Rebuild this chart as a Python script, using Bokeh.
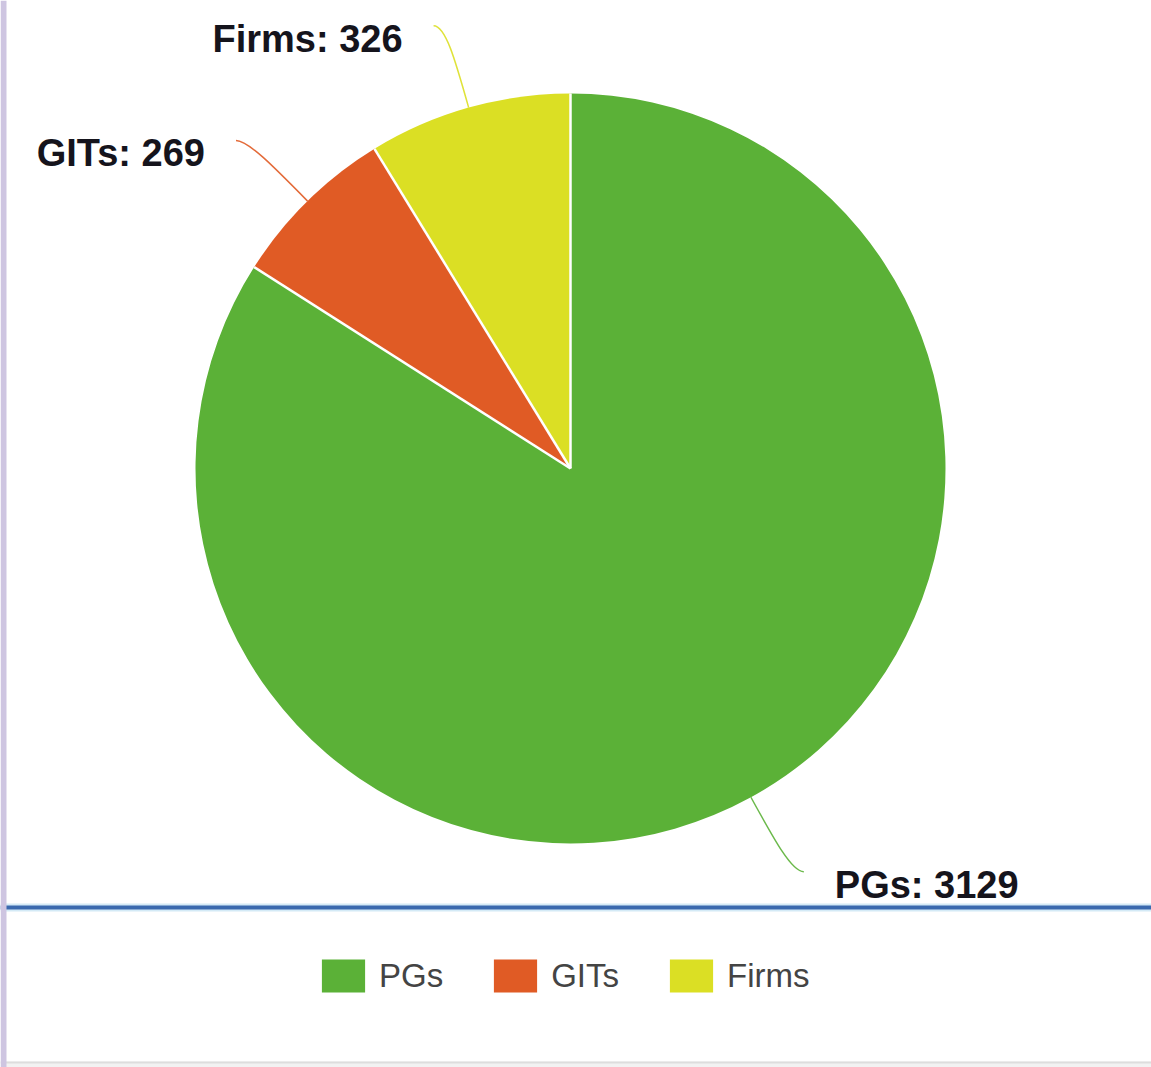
import math
from bokeh.plotting import figure
from bokeh.models import Range1d, ColumnDataSource, Legend, LegendItem, Span, BoxAnnotation
from bokeh.embed import file_html
from bokeh.resources import INLINE
from bokeh.core.properties import value

# ---- data ----
categories = ["PGs", "GITs", "Firms"]
counts = [3129, 269, 326]
colors = ["#5BB137", "#E05B25", "#DBDF24"]

# ---- layout (data units == screen pixels, y measured from bottom) ----
W, H = 1151, 1067
CX, CY, R = 570, 599, 375

p = figure(width=W, height=H, x_range=Range1d(0, W), y_range=Range1d(0, H),
           output_backend="svg", toolbar_location=None, min_border=0,
           x_axis_location=None, y_axis_location=None)
p.grid.visible = False
p.outline_line_color = None
p.background_fill_color = "white"
p.border_fill_color = "white"

total = float(sum(counts))
starts, ends, mids = [], [], []
cum = 0.0
for v in counts:
    s = math.pi / 2 - 2 * math.pi * cum / total
    e = math.pi / 2 - 2 * math.pi * (cum + v) / total
    starts.append(s); ends.append(e); mids.append((s + e) / 2)
    cum += v

src = ColumnDataSource(dict(cat=categories, val=counts, color=colors,
                            start=starts, end=ends))
wedges = p.wedge(x=CX, y=CY, radius=R, start_angle="start", end_angle="end",
                 direction="clock", fill_color="color", line_color=None,
                 source=src)

# white separators between slices
p.segment(x0=[CX] * len(starts), y0=[CY] * len(starts),
          x1=[CX + R * math.cos(a) for a in starts],
          y1=[CY + R * math.sin(a) for a in starts],
          line_color="white", line_width=2.5)

# leader lines and labels
for cat, v, col, m in zip(categories, counts, colors, mids):
    side = 1 if math.cos(m) > 0 else -1
    x0, y0 = CX + R * math.cos(m), CY + R * math.sin(m)
    c0x, c0y = CX + (R + 50) * math.cos(m), CY + (R + 50) * math.sin(m)
    kx, ky = CX + (R + 85) * math.cos(m), CY + (R + 85) * math.sin(m)
    ex, ey = kx + side * 12, ky
    p.bezier(x0=[x0], y0=[y0], x1=[ex], y1=[ey], cx0=[c0x], cy0=[c0y],
             cx1=[kx], cy1=[ky], line_color=col, line_width=1.5, line_alpha=0.9)
    p.text(x=[ex + side * 31], y=[ey - 13], text=[f"{cat}: {v}"],
           text_align="left" if side > 0 else "right",
           text_baseline="middle",
           text_font=value("Liberation Sans"), text_font_style="bold",
           text_font_size="38px", text_color="#15141c")

# lavender strip on the left edge
p.add_layout(BoxAnnotation(left=0, right=6, fill_color="#CEC5E1", fill_alpha=1,
                           line_color=None, level="overlay"))
# blue separator line
p.add_layout(Span(location=160, dimension="width", line_color="#D4EAF6", line_width=8))
p.add_layout(Span(location=160, dimension="width", line_color="#3A69AE", line_width=4))
# faint bottom band
p.add_layout(BoxAnnotation(bottom=0, top=6, fill_color="#F2F2F2", fill_alpha=1,
                           line_color=None))
p.add_layout(Span(location=5, dimension="width", line_color="#DDDDDD", line_width=2))

legend = Legend(items=[LegendItem(label=c, renderers=[wedges], index=i)
                       for i, c in enumerate(categories)],
                orientation="horizontal", location=(316, 71),
                glyph_width=54, glyph_height=41, label_standoff=9,
                spacing=45, padding=0, margin=0,
                label_text_font="Liberation Sans", label_text_font_size="33px",
                label_text_color="#444444", label_height=33,
                border_line_alpha=0, background_fill_alpha=0)
p.add_layout(legend)

open("out.html", "w").write(file_html(p, INLINE))
